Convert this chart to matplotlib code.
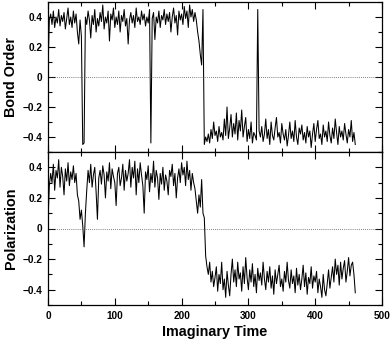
import numpy as np
import matplotlib
matplotlib.use("Agg")
import matplotlib.pyplot as plt
from matplotlib.ticker import MultipleLocator, FuncFormatter

# =======================================================
# Data (one value every 2 time units)
# =======================================================
time = np.arange(0, 461, 2)

bond_order = [
    0.05, 0.38, 0.42, 0.35, 0.44, 0.33, 0.40, 0.36, 0.45, 0.34,
    0.41, 0.37, 0.43, 0.32, 0.39, 0.46, 0.35, 0.40, 0.33, 0.44,
    0.36, 0.42, 0.30, 0.22, 0.38, 0.27, -0.45, -0.44, 0.40, 0.35,
    0.44, 0.38, 0.26, 0.41, 0.35, 0.45, 0.30, 0.39, 0.34, 0.43,
    0.37, 0.48, 0.32, 0.40, 0.36, 0.44, 0.24, 0.42, 0.38, 0.46,
    0.33, 0.40, 0.35, 0.44, 0.30, 0.41, 0.37, 0.45, 0.34, 0.39,
    0.22, 0.38, 0.43, 0.36, 0.41, 0.33, 0.46, 0.37, 0.40, 0.35,
    0.44, 0.38, 0.42, 0.34, 0.40, 0.36, 0.45, -0.44, 0.39, 0.43,
    0.25, 0.40, 0.36, 0.44, 0.33, 0.41, 0.38, 0.45, 0.35, 0.42,
    0.37, 0.43, 0.30, 0.40, 0.46, 0.36, 0.41, 0.28, 0.44, 0.38,
    0.42, 0.35, 0.47, 0.39, 0.44, 0.33, 0.48, 0.40, 0.45, 0.37,
    0.43, 0.38, 0.30, 0.24, 0.15, 0.08, 0.45, -0.45, -0.40, -0.43,
    -0.38, -0.44, -0.35, -0.41, -0.30, -0.39, -0.36, -0.43, -0.33, -0.40,
    -0.37, -0.42, -0.28, -0.39, -0.20, -0.41, -0.34, -0.25, -0.40, -0.31,
    -0.38, -0.24, -0.42, -0.29, -0.36, -0.22, -0.40, -0.33, -0.27, -0.43,
    -0.35, -0.41, -0.30, -0.44, -0.37, -0.39, -0.42, 0.45, -0.36, -0.40,
    -0.33, -0.43, -0.38, -0.28, -0.41, -0.35, -0.45, -0.30, -0.39, -0.42,
    -0.34, -0.27, -0.40, -0.37, -0.44, -0.31, -0.38, -0.42, -0.35, -0.46,
    -0.39, -0.30, -0.41, -0.36, -0.43, -0.29, -0.40, -0.45, -0.34, -0.38,
    -0.32, -0.42, -0.37, -0.44, -0.33, -0.40, -0.36, -0.47, -0.38, -0.31,
    -0.43, -0.35, -0.29, -0.41, -0.38, -0.45, -0.32, -0.40, -0.36, -0.43,
    -0.30, -0.39, -0.44, -0.34, -0.41, -0.28, -0.37, -0.45, -0.33, -0.40,
    -0.36, -0.42, -0.31, -0.38, -0.44, -0.35, -0.40, -0.29, -0.43, -0.37,
    -0.45,
]

polarization = [
    0.05, 0.28, 0.36, 0.30, 0.42, 0.25, 0.38, 0.33, 0.45, 0.27,
    0.40, 0.34, 0.22, 0.39, 0.31, 0.43, 0.28, 0.37, 0.32, 0.41,
    0.30, 0.36, 0.22, 0.18, 0.06, 0.12, 0.02, -0.12, 0.10, 0.25,
    0.38, 0.30, 0.42, 0.27, 0.35, 0.40, 0.24, 0.06, 0.33, 0.38,
    0.29, 0.41, 0.35, 0.20, 0.37, 0.31, 0.43, 0.26, 0.39, 0.34,
    0.30, 0.15, 0.36, 0.40, 0.28, 0.33, 0.42, 0.25, 0.38, 0.31,
    0.36, 0.45, 0.27, 0.40, 0.33, 0.44, 0.22, 0.39, 0.30, 0.43,
    0.35, 0.28, 0.10, 0.37, 0.32, 0.41, 0.24, 0.36, 0.30, 0.44,
    0.27, 0.38, 0.33, 0.19, 0.36, 0.29, 0.40, 0.25, 0.35, 0.31,
    0.22, 0.38, 0.34, 0.42, 0.28, 0.36, 0.20, 0.33, 0.39, 0.30,
    0.43, 0.35, 0.40, 0.28, 0.44, 0.32, 0.38, 0.25, 0.36, 0.30,
    0.26, 0.18, 0.10, 0.22, 0.14, 0.32, 0.10, 0.07, -0.18, -0.25,
    -0.30, -0.22, -0.35, -0.28, -0.38, -0.32, -0.25, -0.41, -0.30, -0.36,
    -0.22, -0.40, -0.33, -0.45, -0.28, -0.37, -0.44, -0.30, -0.20, -0.35,
    -0.27, -0.38, -0.22, -0.33, -0.29, -0.41, -0.25, -0.36, -0.19, -0.32,
    -0.40, -0.27, -0.35, -0.23, -0.38, -0.30, -0.42, -0.26, -0.34, -0.29,
    -0.37, -0.22, -0.33, -0.40, -0.28, -0.35, -0.25, -0.39, -0.31, -0.43,
    -0.27, -0.36, -0.30, -0.24, -0.38, -0.33, -0.41, -0.28, -0.35, -0.22,
    -0.34, -0.39, -0.27, -0.36, -0.31, -0.42, -0.26, -0.37, -0.30, -0.40,
    -0.33, -0.24, -0.38, -0.29, -0.43, -0.32, -0.36, -0.25, -0.39, -0.31,
    -0.35, -0.28, -0.42, -0.33, -0.38, -0.45, -0.30, -0.40, -0.44, -0.36,
    -0.27, -0.39, -0.32, -0.25, -0.35, -0.20, -0.30, -0.24, -0.37, -0.22,
    -0.33, -0.26, -0.21, -0.35, -0.28, -0.19, -0.31, -0.24, -0.22, -0.30,
    -0.42,
]

panels = [("Bond Order", bond_order), ("Polarization", polarization)]

# =======================================================
# Style
# =======================================================
plt.rcParams.update({
    'font.family':  ['Liberation Sans', 'DejaVu Sans'],
    'font.weight':  'bold',
    'font.size':    7.2,
    'axes.linewidth': 0.9,
})


def tick_fmt(v, _):
    if abs(v) < 1e-9:
        return "0"
    return f"{v:.1f}".replace("-", "\u2212")


fig = plt.figure(figsize=(3.91, 3.46), dpi=100)
left, right = 48 / 391, 382 / 391
bottoms = [(1 - 152 / 346), (1 - 305 / 346)]
height = (152 - 2) / 346
height2 = (305 - 152) / 346

axes = [
    fig.add_axes([left, bottoms[0], right - left, height]),
    fig.add_axes([left, bottoms[1], right - left, height2]),
]

for ax, (label, vals) in zip(axes, panels):
    ax.plot(time, vals, color='black', linewidth=0.75)
    ax.axhline(0, color='#555555', linestyle=(0, (1, 1.5)), linewidth=0.6)
    ax.set_xlim(0, 500)
    ax.set_ylim(-0.5, 0.5)
    ax.xaxis.set_major_locator(MultipleLocator(100))
    ax.xaxis.set_minor_locator(MultipleLocator(50))
    ax.yaxis.set_major_locator(MultipleLocator(0.2))
    ax.yaxis.set_minor_locator(MultipleLocator(0.1))
    ax.yaxis.set_major_formatter(FuncFormatter(tick_fmt))
    ax.tick_params(which='both', direction='in', top=True, right=True, width=0.8)
    ax.tick_params(which='major', length=5, pad=4)
    ax.tick_params(which='minor', length=3)
    ax.set_ylabel(label, fontsize=10.4, fontweight='bold', labelpad=3)

axes[0].tick_params(labelbottom=False)
axes[1].set_xlabel("Imaginary Time", fontsize=10.4, fontweight='bold', labelpad=3)
fig.align_ylabels(axes)

fig.savefig("out.png", dpi=100)
